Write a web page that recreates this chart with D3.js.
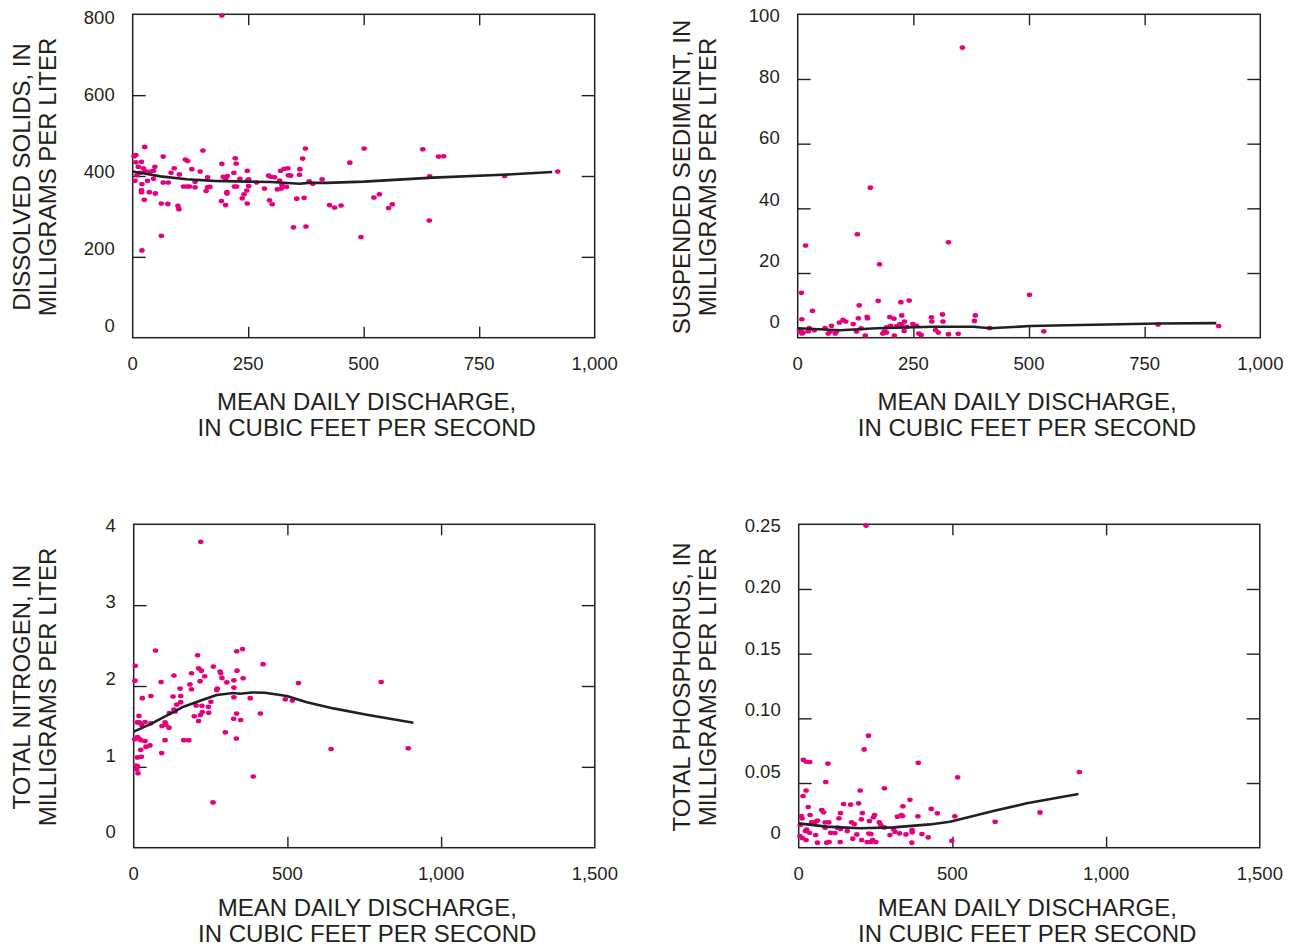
<!DOCTYPE html>
<html>
<head>
<meta charset="utf-8">
<script src="https://cdn.jsdelivr.net/npm/d3@7"></script>
<style>
  html, body { margin: 0; padding: 0; background: #ffffff; }
  svg { display: block; }
  text { font-family: "Liberation Sans", Arial, Helvetica, sans-serif; fill: #231f20; }
</style>
</head>
<body>
<svg id="chart" width="1306" height="951"></svg>
<script>
// Discharge (ft3/s) versus constituent concentration, with LOWESS trend lines.

const solidsPoints = [[193,797],[26,472],[7,452],[3,449],[19,435],[7,434],[66,448],[152,463],[114,441],[119,437],[48,423],[23,419],[27,412],[12,423],[16,408],[9,402],[5,388],[38,411],[45,413],[32,388],[45,393],[20,380],[19,365],[19,360],[36,360],[49,357],[25,341],[62,332],[76,331],[98,326],[100,318],[62,252],[20,216],[83,408],[90,419],[101,404],[66,384],[77,384],[110,374],[117,374],[123,374],[146,411],[128,417],[135,372],[135,386],[162,397],[159,363],[162,372],[167,373],[193,430],[222,444],[224,431],[196,398],[201,392],[205,400],[219,408],[220,374],[225,374],[204,360],[204,357],[192,338],[201,328],[248,413],[251,392],[248,388],[251,375],[247,364],[241,355],[237,345],[248,332],[232,393],[268,384],[285,369],[294,401],[299,398],[307,397],[296,340],[302,330],[313,367],[322,369],[320,413],[328,418],[336,419],[318,389],[323,378],[333,373],[342,401],[337,402],[362,417],[368,443],[361,403],[374,468],[355,344],[348,273],[375,275],[371,346],[382,387],[390,381],[410,392],[426,328],[437,322],[451,327],[470,433],[494,249],[501,468],[522,347],[534,355],[554,321],[562,330],[628,466],[642,290],[643,399],[662,448],[673,449],[805,400],[920,411]];
const solidsTrend = [[0,411],[25,406],[60,399],[117,392],[175,388],[250,386],[300,385],[362,381],[380,383],[420,383],[500,386],[650,396],[800,403],[908,410]];

const sedimentPoints = [[356,89.7],[157,46.4],[129,32],[17,28.5],[326,29.5],[177,22.7],[8,13.9],[501,13.3],[133,10],[174,11.4],[223,11],[241,11.5],[32,8.3],[9,5.7],[150,6.5],[151,6],[131,6],[199,6.4],[208,5.9],[225,6.9],[313,7.2],[289,6.3],[290,5],[314,5],[384,6.9],[382,5.2],[90,4.7],[98,5.5],[104,5],[120,4.2],[231,5],[249,4.2],[257,3.7],[221,4.2],[225,3.9],[214,3.6],[201,3.7],[192,3.2],[73,3.7],[59,3],[137,2.9],[25,3],[23,2],[36,2.3],[8,1.9],[4,2.1],[9,1.3],[12,1.6],[415,3],[779,4.1],[910,3.6],[532,2],[66,1.3],[70,1.9],[81,1.3],[84,1.9],[127,1.9],[146,0.7],[187,1.9],[184,1.3],[192,1.6],[209,0.7],[230,2.1],[236,3.4],[262,1.3],[267,0.8],[298,2.4],[304,1.6],[326,1.1],[347,1.2]];
const sedimentTrend = [[0,2.9],[92,2.3],[171,2.9],[293,3.4],[380,3.4],[415,2.9],[502,3.6],[639,4],[779,4.4],[905,4.5]];

const nitrogenPoints = [[218,3.785],[71,2.44],[354,2.457],[335,2.43],[208,2.38],[421,2.27],[5,2.25],[4,2.066],[259,2.24],[211,2.22],[220,2.19],[281,2.18],[283,2.16],[336,2.19],[188,2.157],[131,2.13],[231,2.12],[287,2.1],[303,2.045],[356,2.095],[326,2.07],[216,2.06],[89,2.05],[183,2.02],[536,2.036],[805,2.05],[272,1.97],[270,1.95],[326,1.98],[151,1.97],[188,1.96],[128,1.87],[153,1.876],[56,1.876],[28,1.85],[326,1.86],[379,1.85],[493,1.835],[516,1.82],[140,1.77],[153,1.8],[251,1.806],[203,1.76],[222,1.756],[243,1.744],[131,1.71],[135,1.686],[116,1.666],[223,1.678],[244,1.67],[197,1.625],[217,1.64],[335,1.66],[412,1.66],[325,1.595],[348,1.58],[211,1.567],[17,1.63],[12,1.55],[18,1.55],[37,1.555],[56,1.54],[102,1.55],[105,1.52],[115,1.485],[92,1.505],[26,1.52],[298,1.427],[334,1.35],[3,1.34],[12,1.37],[17,1.35],[23,1.33],[37,1.32],[102,1.33],[163,1.33],[179,1.33],[40,1.25],[53,1.265],[23,1.21],[91,1.17],[642,1.22],[893,1.23],[12,1.117],[25,1.125],[7,1.015],[12,1.01],[10,0.97],[14,0.92],[389,0.88],[258,0.56]];
const nitrogenTrend = [[0,1.435],[53,1.525],[107,1.633],[162,1.744],[216,1.818],[270,1.888],[324,1.913],[346,1.905],[384,1.92],[427,1.917],[498,1.876],[563,1.8],[650,1.723],[758,1.645],[910,1.546]];

const phosphorusPoints = [[219,0.249],[227,0.0866],[213,0.076],[15,0.068],[24,0.0665],[36,0.0662],[95,0.065],[389,0.0657],[913,0.0585],[517,0.0544],[88,0.0508],[279,0.0459],[24,0.0442],[200,0.0442],[14,0.040],[362,0.0371],[146,0.0338],[169,0.0333],[195,0.0343],[339,0.032],[31,0.0315],[75,0.0292],[81,0.0274],[431,0.030],[451,0.0266],[785,0.0273],[136,0.0268],[207,0.0268],[37,0.0253],[9,0.0245],[11,0.0227],[247,0.0253],[243,0.0235],[334,0.0253],[321,0.024],[338,0.0245],[388,0.0243],[508,0.0243],[639,0.0201],[131,0.0227],[204,0.022],[230,0.0206],[278,0.0157],[54,0.02],[42,0.0196],[61,0.021],[86,0.0196],[98,0.0196],[172,0.0196],[181,0.0183],[262,0.0196],[267,0.0175],[5,0.0175],[26,0.014],[22,0.0129],[35,0.0116],[86,0.0155],[126,0.0155],[136,0.0144],[158,0.0129],[104,0.0116],[118,0.0113],[55,0.0098],[189,0.0103],[228,0.011],[235,0.0106],[297,0.0098],[308,0.0144],[313,0.0124],[328,0.0111],[349,0.0103],[369,0.0137],[369,0.0119],[401,0.0106],[4,0.009],[12,0.0075],[24,0.006],[176,0.007],[205,0.006],[61,0.0039],[91,0.0039],[99,0.0044],[135,0.0044],[223,0.0044],[235,0.0044],[241,0.006],[251,0.0044],[368,0.0039],[421,0.008],[498,0.0054]];
const phosphorusTrend = [[0,0.0188],[91,0.0163],[200,0.015],[308,0.0157],[427,0.018],[492,0.0201],[568,0.0245],[633,0.0283],[742,0.0343],[910,0.0415]];

const dischargeTicksTop = [0, 250, 500, 750, 1000];
const dischargeTicksBottom = [0, 500, 1000, 1500];
const solidsTicks = [0, 200, 400, 600, 800];
const sedimentTicks = [0, 20, 40, 60, 80, 100];
const nitrogenTicks = [0, 1, 2, 3, 4];
const phosphorusTicks = [0, 0.05, 0.10, 0.15, 0.20, 0.25];

const xTitle = ["MEAN DAILY DISCHARGE,", "IN CUBIC FEET PER SECOND"];

const INK = "#231f20";
const DOT = "#e6007e";

const svg = d3.select("#chart");

function drawPanel(cfg) {
  const g = svg.append("g");
  const x = d3.scaleLinear().domain([cfg.xTicks[0], cfg.xTicks[cfg.xTicks.length - 1]]).range([cfg.left, cfg.right]);
  const y = d3.scaleLinear().domain([cfg.yTicks[0], cfg.yTicks[cfg.yTicks.length - 1]]).range([cfg.bottom, cfg.top]);
  // tick labels sit on a slightly compressed ladder inside the frame height
  const yLab = d3.scaleLinear().domain(y.domain()).range([cfg.bottom - cfg.labBottom, cfg.top + cfg.labTop]);

  const innerX = cfg.xTicks.slice(1, -1);
  const innerY = cfg.yTicks.slice(1, -1);
  const strip = s => s.call(a => a.select(".domain").remove())
    .call(a => a.selectAll(".tick line").attr("stroke", INK).attr("stroke-width", 1.4));

  g.append("g").attr("transform", `translate(0,${cfg.bottom})`)
    .call(d3.axisBottom(x).tickValues(innerX).tickSize(-11).tickFormat(() => "")).call(strip);
  g.append("g").attr("transform", `translate(0,${cfg.top})`)
    .call(d3.axisTop(x).tickValues(innerX).tickSize(-11).tickFormat(() => "")).call(strip);
  g.append("g").attr("transform", `translate(${cfg.left},0)`)
    .call(d3.axisLeft(y).tickValues(innerY).tickSize(-13).tickFormat(() => "")).call(strip);
  g.append("g").attr("transform", `translate(${cfg.right},0)`)
    .call(d3.axisRight(y).tickValues(innerY).tickSize(-13).tickFormat(() => "")).call(strip);

  g.append("rect")
    .attr("x", cfg.left).attr("y", cfg.top)
    .attr("width", cfg.right - cfg.left).attr("height", cfg.bottom - cfg.top)
    .attr("fill", "none").attr("stroke", INK).attr("stroke-width", 1.5);

  g.append("g").selectAll("ellipse").data(cfg.points).join("ellipse")
    .attr("cx", d => x(d[0])).attr("cy", d => y(d[1]))
    .attr("rx", 2.8).attr("ry", 2.3).attr("fill", DOT);

  g.append("path").datum(cfg.trend)
    .attr("d", d3.line().x(d => x(d[0])).y(d => y(d[1])))
    .attr("fill", "none").attr("stroke", INK).attr("stroke-width", 2.6)
    .attr("stroke-linejoin", "round");

  // x tick labels
  const fx = d3.format(",");
  g.append("g").selectAll("text").data(cfg.xTicks).join("text")
    .attr("x", d => x(d)).attr("y", cfg.bottom + 32)
    .attr("text-anchor", "middle").attr("font-size", 18.5)
    .text(d => fx(d));

  // y tick labels
  g.append("g").selectAll("text").data(cfg.yTicks).join("text")
    .attr("x", cfg.left - 18).attr("y", d => yLab(d) + 6.5)
    .attr("text-anchor", "end").attr("font-size", 18.5)
    .text(d => cfg.yFormat(d));

  // axis titles
  const cx = (cfg.left + cfg.right) / 2 + cfg.xTitleShift;
  g.append("text").attr("x", cx).attr("y", cfg.bottom + cfg.xTitleY)
    .attr("text-anchor", "middle").attr("font-size", 24).text(xTitle[0]);
  g.append("text").attr("x", cx).attr("y", cfg.bottom + cfg.xTitleY + 26)
    .attr("text-anchor", "middle").attr("font-size", 24).text(xTitle[1]);

  const cy = (cfg.top + cfg.bottom) / 2 + 1;
  cfg.yTitle.forEach((t, i) => {
    g.append("text")
      .attr("transform", `translate(${cfg.left + cfg.yTitleOffset + i * 26},${cy}) rotate(-90)`)
      .attr("text-anchor", "middle").attr("font-size", 24).text(t);
  });
}

const intFmt = d => String(d);
const pFmt = d => d === 0 ? "0" : d3.format(".2f")(d);

drawPanel({
  left: 132.7, right: 594.7, top: 14.3, bottom: 337.7,
  xTicks: dischargeTicksTop, yTicks: solidsTicks, yFormat: intFmt,
  labTop: 2.7, labBottom: 12.7, xTitleY: 72, xTitleShift: 3,
  points: solidsPoints, trend: solidsTrend,
  yTitle: ["DISSOLVED SOLIDS, IN", "MILLIGRAMS PER LITER"], yTitleOffset: -103
});
drawPanel({
  left: 797.7, right: 1260.3, top: 14.3, bottom: 337.7,
  xTicks: dischargeTicksTop, yTicks: sedimentTicks, yFormat: intFmt,
  labTop: 0.7, labBottom: 16, xTitleY: 72, xTitleShift: -2,
  points: sedimentPoints, trend: sedimentTrend,
  yTitle: ["SUSPENDED SEDIMENT, IN", "MILLIGRAMS PER LITER"], yTitleOffset: -108
});
drawPanel({
  left: 133.7, right: 594.8, top: 524.3, bottom: 847.7,
  xTicks: dischargeTicksBottom, yTicks: nitrogenTicks, yFormat: intFmt,
  labTop: 0.7, labBottom: 16, xTitleY: 68, xTitleShift: 3,
  points: nitrogenPoints, trend: nitrogenTrend,
  yTitle: ["TOTAL NITROGEN, IN", "MILLIGRAMS PER LITER"], yTitleOffset: -104
});
drawPanel({
  left: 798.7, right: 1259.8, top: 524.3, bottom: 847.7,
  xTicks: dischargeTicksBottom, yTicks: phosphorusTicks, yFormat: pFmt,
  labTop: 0.7, labBottom: 15, xTitleY: 68, xTitleShift: -2,
  points: phosphorusPoints, trend: phosphorusTrend,
  yTitle: ["TOTAL PHOSPHORUS, IN", "MILLIGRAMS PER LITER"], yTitleOffset: -109
});
</script>
</body>
</html>
